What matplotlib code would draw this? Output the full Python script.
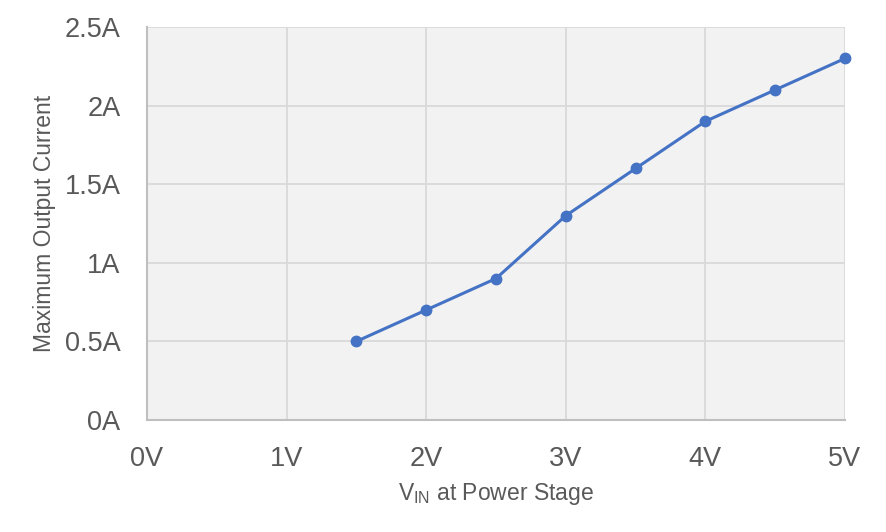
import matplotlib
matplotlib.use("Agg")
import matplotlib.pyplot as plt

vin = [1.5, 2.0, 2.5, 3.0, 3.5, 4.0, 4.5, 5.0]
current = [0.5, 0.7, 0.9, 1.3, 1.6, 1.9, 2.1, 2.3]
xticks = [0, 1, 2, 3, 4, 5]
xticklabels = ["0V", "1V", "2V", "3V", "4V", "5V"]
yticks = [0, 0.5, 1.0, 1.5, 2.0, 2.5]
yticklabels = ["0A", "0.5A", "1A", "1.5A", "2A", "2.5A"]

plt.rcParams['font.family'] = ['Liberation Sans', 'DejaVu Sans']
plt.rcParams['mathtext.fontset'] = 'custom'
plt.rcParams['mathtext.rm'] = 'Liberation Sans'

txt = '#595959'
fig = plt.figure(figsize=(8.86, 5.32), dpi=100)
ax = fig.add_axes([147/886, 1-420/532, (845-147)/886, (420-27)/532])
ax.set_facecolor('#F2F2F2')
ax.plot(vin, current, color='#4472C4', lw=2.2, marker='o', ms=7.5, zorder=3, clip_on=False)
ax.set_xlim(0, 5)
ax.set_ylim(0, 2.5)
ax.set_xticks(xticks)
ax.set_xticklabels(xticklabels)
ax.set_yticks(yticks)
ax.set_yticklabels(yticklabels)
ax.tick_params(axis='both', length=0, labelsize=19.5, labelcolor=txt)
ax.tick_params(axis='y', pad=19)
ax.tick_params(axis='x', pad=19)
ax.grid(True, color='#D9D9D9', lw=1.3)
ax.set_axisbelow(True)
for s in ['top', 'right']:
    ax.spines[s].set_visible(False)
for s in ['left', 'bottom']:
    ax.spines[s].set_color('#BFBFBF')
    ax.spines[s].set_linewidth(1.5)
ax.set_xlabel(r'V$_{\mathregular{IN}}$ at Power Stage', fontsize=16.5, color=txt, labelpad=6)
ax.set_ylabel('Maximum Output Current', fontsize=16.5, color=txt, labelpad=6)
fig.savefig('out.png', dpi=100)
